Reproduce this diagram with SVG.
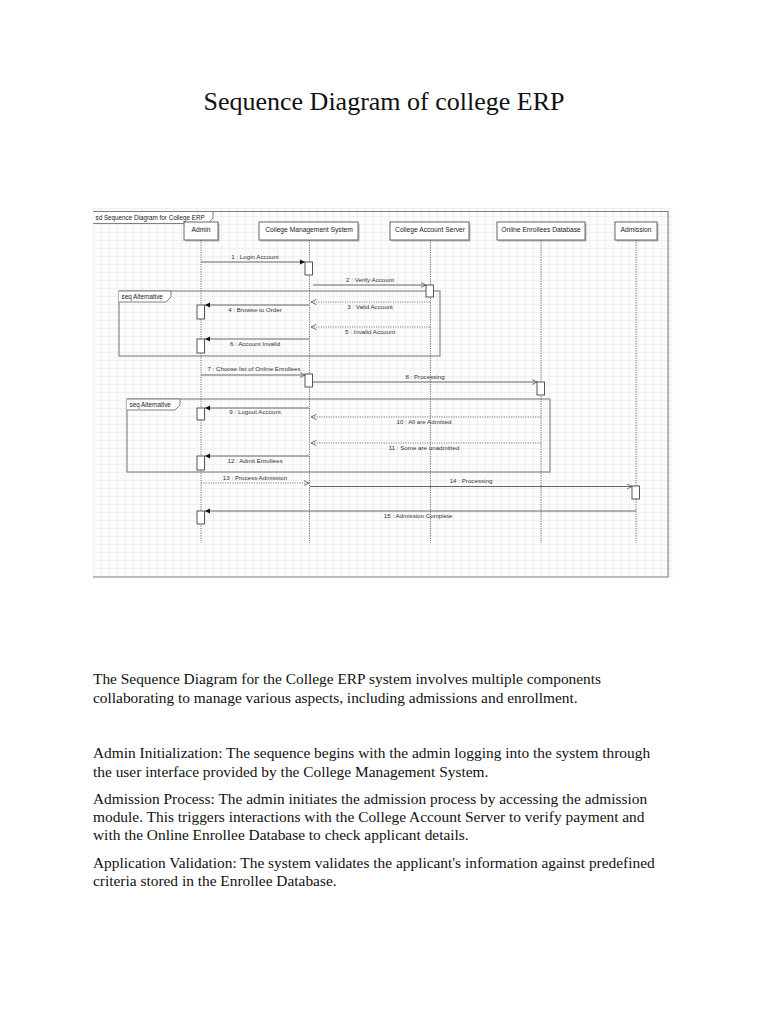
<svg xmlns="http://www.w3.org/2000/svg" width="768" height="1024" viewBox="0 0 768 1024">
<style>
.title{font-family:"Liberation Serif",serif;font-size:26px;fill:#111}
.para{font-family:"Liberation Serif",serif;font-size:15.4px;fill:#111}
.ll{font-family:"Liberation Sans",Arial,sans-serif;font-size:6.7px;fill:#222;text-anchor:middle}
.ml{font-family:"Liberation Sans",Arial,sans-serif;font-size:6.2px;fill:#333;text-anchor:middle}
.fl{font-family:"Liberation Sans",Arial,sans-serif;font-size:6.3px;fill:#222}
.box{fill:#fff;stroke:#666;stroke-width:1}
.shadow{fill:#b8b8b8}
.life{stroke:#555;stroke-width:0.8;stroke-dasharray:1.2 1.2;fill:none}
.act{fill:#fff;stroke:#444;stroke-width:0.9}
.frame{fill:none;stroke:#808080;stroke-width:1.1}
.msg{stroke:#555;stroke-width:0.9;fill:none}
.ret{stroke:#666;stroke-width:0.8;fill:none;stroke-dasharray:1.2 1.2}
</style>
<defs>
<pattern id="grid" width="8" height="8" patternUnits="userSpaceOnUse" x="93" y="208">
<path d="M8 0 L0 0 0 8" fill="none" stroke="#e0e0e0" stroke-width="0.7"/>
</pattern>
<marker id="fillArr" markerWidth="6" markerHeight="6" refX="5" refY="3" orient="auto" markerUnits="userSpaceOnUse">
<path d="M0 0.5 L5 3 L0 5.5 Z" fill="#111"/>
</marker>
<marker id="openArr" markerWidth="7" markerHeight="7" refX="5.5" refY="3.5" orient="auto" markerUnits="userSpaceOnUse">
<path d="M0 0.8 L5.5 3.5 L0 6.2" fill="none" stroke="#555" stroke-width="0.8"/>
</marker>
</defs>
<rect width="768" height="1024" fill="#fff"/>
<text class="title" x="384" y="110" text-anchor="middle">Sequence Diagram of college ERP</text>

<g id="diagram-bg">
<rect x="93" y="208" width="580" height="370" fill="#fbfbfb"/>
<rect x="93" y="208" width="580" height="370" fill="url(#grid)"/>
</g>

<g id="sd-frame">
<path class="frame" d="M93 211.5 H668 V577 H93"/>
<path d="M93 211.5 H213 V218 L208 223.5 H93" fill="#fff" stroke="#808080" stroke-width="1"/>
<text class="fl" x="95.5" y="220">sd  Sequence Diagram for College ERP</text>
</g>

<g id="alt1">
<rect class="frame" x="119" y="291" width="321" height="65"/>
<path d="M119 291 H171 V297 L166 302 H119" fill="#fff" stroke="#808080" stroke-width="1"/>
<text class="fl" x="121.5" y="299">seq  Alternative</text>
</g>
<g id="alt2">
<rect class="frame" x="127" y="399" width="423" height="73"/>
<path d="M127 399 H180 V405 L175 410 H127" fill="#fff" stroke="#808080" stroke-width="1"/>
<text class="fl" x="129.5" y="407">seq  Alternative</text>
</g>

<g id="admin">
<rect class="shadow" x="185.5" y="223.5" width="34" height="18"/>
<rect class="box" x="184" y="222" width="34" height="18"/>
<text class="ll" x="201" y="231.5">Admin</text>
<line class="life" x1="201" y1="240" x2="201" y2="543"/>
</g>
<g id="cms">
<rect class="shadow" x="260.5" y="223.5" width="99" height="18"/>
<rect class="box" x="259" y="222" width="99" height="18"/>
<text class="ll" x="309" y="231.5">College Management  System</text>
<line class="life" x1="309.5" y1="240" x2="309.5" y2="543"/>
</g>
<g id="cas">
<rect class="shadow" x="391.5" y="223.5" width="79" height="18"/>
<rect class="box" x="390" y="222" width="79" height="18"/>
<text class="ll" x="430" y="231.5">College Account Server</text>
<line class="life" x1="430.5" y1="240" x2="430.5" y2="543"/>
</g>
<g id="oed">
<rect class="shadow" x="498.5" y="223.5" width="88" height="18"/>
<rect class="box" x="497" y="222" width="88" height="18"/>
<text class="ll" x="541" y="231.5">Online Enrollees Database</text>
<line class="life" x1="541" y1="240" x2="541" y2="543"/>
</g>
<g id="admission">
<rect class="shadow" x="616.5" y="223.5" width="42" height="18"/>
<rect class="box" x="615" y="222" width="42" height="18"/>
<text class="ll" x="636" y="231.5">Admission</text>
<line class="life" x1="636" y1="240" x2="636" y2="543"/>
</g>

<g id="connectors">
<line class="msg" x1="201" y1="262" x2="305" y2="262" marker-end="url(#fillArr)"/>
<text class="ml" x="255" y="259">1 : Login Account</text>
<line class="msg" x1="313" y1="285" x2="426" y2="285" marker-end="url(#openArr)"/>
<text class="ml" x="370" y="282">2 : Verify Account</text>
<line class="ret" x1="430" y1="302" x2="311" y2="302" marker-end="url(#openArr)"/>
<text class="ml" x="370" y="308.5">3 : Valid Account</text>
<line class="msg" x1="309" y1="305" x2="205" y2="305" marker-end="url(#fillArr)"/>
<text class="ml" x="255" y="312">4 : Browse to Order</text>
<line class="ret" x1="430" y1="327" x2="311" y2="327" marker-end="url(#openArr)"/>
<text class="ml" x="370" y="333.5">5 : Invalid Account</text>
<line class="msg" x1="309" y1="339" x2="205" y2="339" marker-end="url(#fillArr)"/>
<text class="ml" x="255" y="346">6 : Account Invalid</text>
<line class="msg" x1="201" y1="375" x2="305" y2="375" marker-end="url(#openArr)"/>
<text class="ml" x="254" y="371">7 : Choose list of Online Enrollees</text>
<line class="msg" x1="313" y1="382" x2="537" y2="382" marker-end="url(#openArr)"/>
<text class="ml" x="425" y="379">8 : Processing</text>
<line class="msg" x1="309" y1="408" x2="205" y2="408" marker-end="url(#fillArr)"/>
<text class="ml" x="255" y="414">9 : Logout Account</text>
<line class="ret" x1="541" y1="417" x2="311" y2="417" marker-end="url(#openArr)"/>
<text class="ml" x="424" y="424">10 : All are Admitted</text>
<line class="ret" x1="541" y1="443" x2="311" y2="443" marker-end="url(#openArr)"/>
<text class="ml" x="424" y="450">11 : Some  are unadmitted</text>
<line class="msg" x1="309" y1="456" x2="205" y2="456" marker-end="url(#fillArr)"/>
<text class="ml" x="255" y="463">12 : Admit Enrollees</text>
<line class="ret" x1="201" y1="483" x2="309" y2="483" marker-end="url(#openArr)"/>
<text class="ml" x="255" y="480">13 : Process Admission</text>
<line class="msg" x1="310" y1="486.5" x2="632" y2="486.5" marker-end="url(#openArr)"/>
<text class="ml" x="471" y="483">14 : Processing</text>
<line class="msg" x1="636" y1="511" x2="205" y2="511" marker-end="url(#fillArr)"/>
<text class="ml" x="418" y="517.5">15 : Admission Complete</text>
</g>

<g id="activations">
<rect class="act" x="305" y="262" width="7.5" height="13"/>
<rect class="act" x="426" y="285" width="7.5" height="12"/>
<rect class="act" x="197" y="305" width="7.5" height="14"/>
<rect class="act" x="197" y="339" width="7.5" height="14"/>
<rect class="act" x="305" y="374" width="7.5" height="13"/>
<rect class="act" x="537" y="382" width="7.5" height="13"/>
<rect class="act" x="197" y="408" width="7.5" height="12"/>
<rect class="act" x="197" y="456" width="7.5" height="14"/>
<rect class="act" x="632" y="486" width="7.5" height="13"/>
<rect class="act" x="197" y="511" width="7.5" height="13"/>
</g>

<g id="text-body">
<text class="para" x="93" y="684">The Sequence Diagram for the College ERP system involves multiple components</text>
<text class="para" x="93" y="703">collaborating to manage various aspects, including admissions and enrollment.</text>
<text class="para" x="93" y="758">Admin Initialization: The sequence begins with the admin logging into the system through</text>
<text class="para" x="93" y="777">the user interface provided by the College Management System.</text>
<text class="para" x="93" y="804">Admission Process: The admin initiates the admission process by accessing the admission</text>
<text class="para" x="93" y="822">module. This triggers interactions with the College Account Server to verify payment and</text>
<text class="para" x="93" y="840">with the Online Enrollee Database to check applicant details.</text>
<text class="para" x="93" y="868">Application Validation: The system validates the applicant's information against predefined</text>
<text class="para" x="93" y="886">criteria stored in the Enrollee Database.</text>
</g>
</svg>
